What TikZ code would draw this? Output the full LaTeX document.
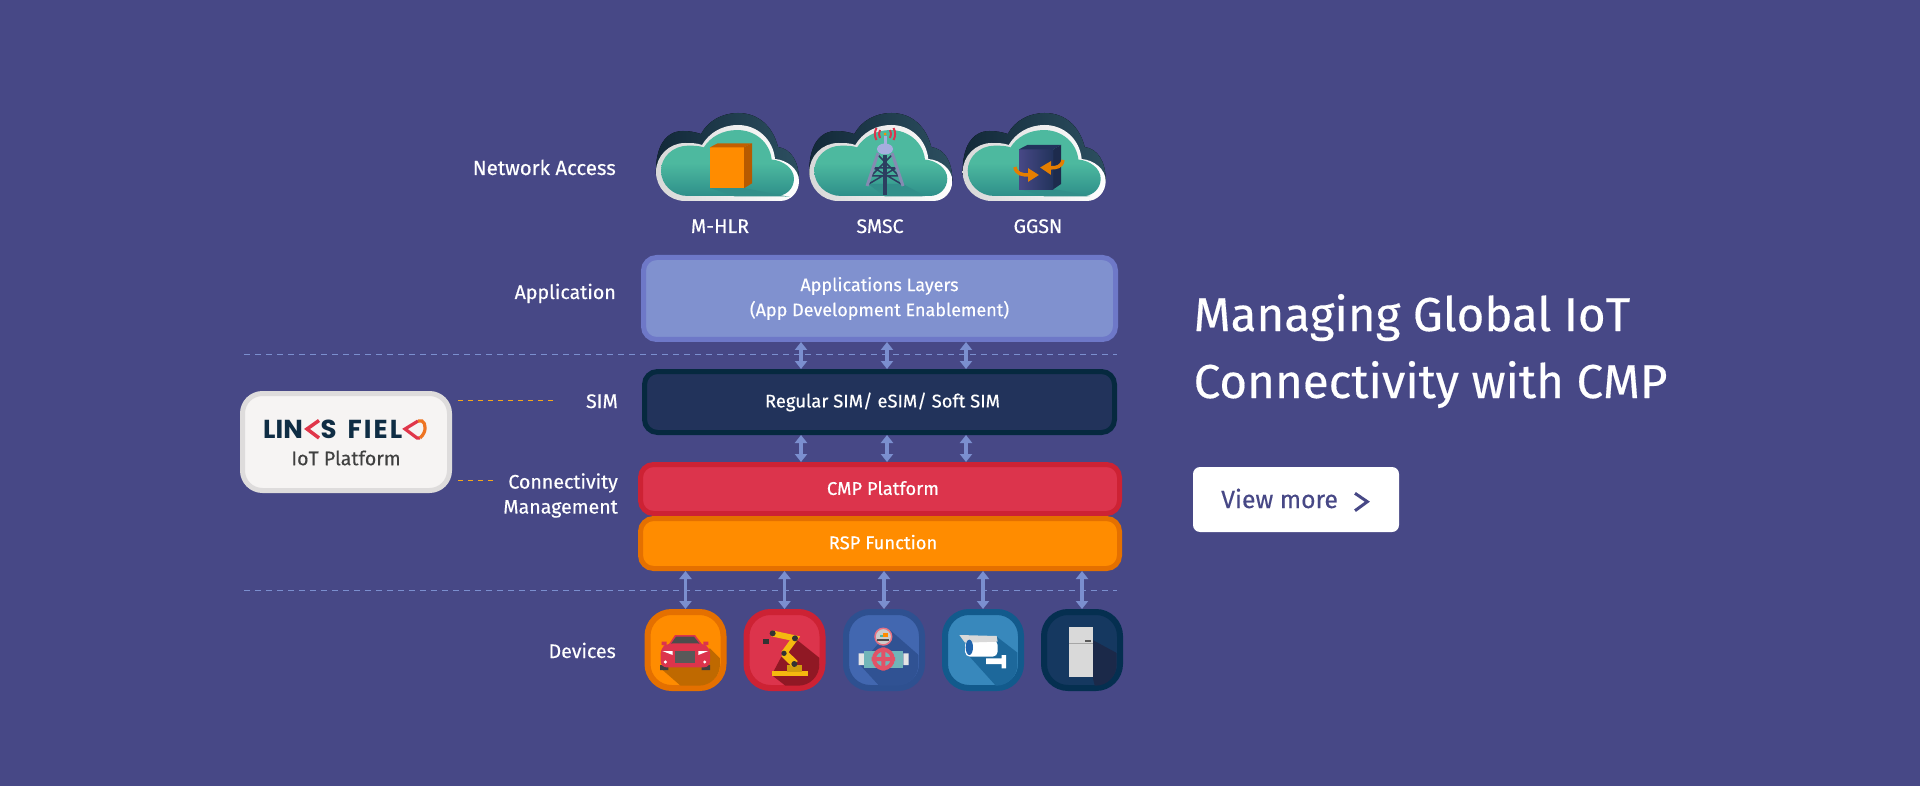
\documentclass[tikz,border=0pt]{standalone}
\usepackage{fontspec}
\setmainfont{Fira Sans}[FakeBold=0.35]
\newfontfamily\logofont{Poppins}
\usetikzlibrary{arrows.meta}
\newcommand{\cloudpath}{(29,0) -- (124,0) .. controls (135,0) and (143,-9) .. (143,-20) .. controls (143,-32) and (131,-41) .. (119,-42) .. controls (117,-62) and (101,-76) .. (82,-76) .. controls (66,-76) and (53,-68) .. (46,-56) .. controls (41,-58) and (35,-58) .. (29,-58) .. controls (13,-58) and (0,-45) .. (0,-29) .. controls (0,-13) and (13,0) .. (29,0) -- cycle}
\begin{document}
\begin{tikzpicture}[x=1pt,y=-1pt,
  layerbox/.style={rectangle,rounded corners=13,line width=5,text=white,align=center,font=\fontsize{18.4}{25}\selectfont},
  iconbox/.style={rectangle,rounded corners=24,line width=6,minimum width=76,minimum height=76},
  sidelabel/.style={text=white,align=right,font=\fontsize{19.6}{25}\selectfont,inner sep=0},
  toplabel/.style={text=white,font=\fontsize{19.6}{25}\selectfont,inner sep=0},
  duplex/.style={{Triangle[length=8,width=12]}-{Triangle[length=8,width=12]},line width=3.5,draw=linkblue},
  sepline/.style={draw=linkblue,line width=1,dash pattern=on 6 off 5},
  tickline/.style={draw=tickorange,line width=1,dash pattern=on 5 off 5},
  netcloud/.pic={
    \fill[left color=cloudA,right color=cloudB] (0,-26) .. controls (-1,-55) and (10,-70) .. (27,-70) .. controls (33,-70) and (39,-69) .. (45,-67) .. controls (52,-80) and (66,-88) .. (82,-88) .. controls (103,-88) and (117,-74) .. (122,-54) .. controls (135,-52) and (143,-40) .. (143,-20) -- (100,-10) -- cycle;
    \path[left color=rimgrey,right color=white] \cloudpath;
    \path[shift={(5,-5)},xscale=0.93,yscale=0.868,top color=tealA,bottom color=tealB,middle color=tealA] \cloudpath;
  }]
\definecolor{bgblue}{HTML}{474886}
\definecolor{linkblue}{HTML}{7B8FCF}
\definecolor{tickorange}{HTML}{F5A81C}
\definecolor{cloudA}{HTML}{122838}
\definecolor{cloudB}{HTML}{2C4F60}
\definecolor{rimgrey}{HTML}{D8D8D8}
\definecolor{tealA}{HTML}{4DB99F}
\definecolor{tealB}{HTML}{2E8F8A}
\definecolor{tealC}{HTML}{328F8A}
\definecolor{appfill}{HTML}{8091CF}
\definecolor{appline}{HTML}{6E78C8}
\definecolor{simfill}{HTML}{22335B}
\definecolor{simline}{HTML}{06293F}
\definecolor{cmpfill}{HTML}{DC344C}
\definecolor{cmpline}{HTML}{CD2234}
\definecolor{rspfill}{HTML}{FF8C00}
\definecolor{rspline}{HTML}{E47000}
\definecolor{valvefill}{HTML}{4267B0}
\definecolor{valveline}{HTML}{2E5090}
\definecolor{camfill}{HTML}{3888BC}
\definecolor{camline}{HTML}{125A8C}
\definecolor{coldfill}{HTML}{153860}
\definecolor{coldline}{HTML}{052F50}
\definecolor{brand}{HTML}{0F2D44}
\definecolor{brandred}{HTML}{E0364A}
\definecolor{brandorange}{HTML}{EE7422}
\definecolor{metal}{HTML}{2C3E60}
\definecolor{lilac}{HTML}{A6AEDF}
\definecolor{gold}{HTML}{F5B90F}
\useasboundingbox (0,0) rectangle (1920,786);
\fill[bgblue] (0,0) rectangle (1920,786);
% clouds
\pic at (656,201) {netcloud};
\pic at (809.3,201) {netcloud};
\pic at (962.7,201) {netcloud};
\fill[tealC] (710,188) -- (744,188) -- (790,197) -- (785,196.5) -- (735,196.5) -- cycle;
\fill[tealC] (868,184) -- (903,184) -- (925,196) -- (920,196.5) -- (885,196.5) -- cycle;
\fill[tealC] (1019,189) -- (1054,189) -- (1090,196) -- (1085,196.5) -- (1045,196.5) -- cycle;
% m-hlr
\fill[rspfill] (710,147.3) rectangle (744,188.3);
\fill[rspline!85!black] (710,147.3) -- (717.7,143.3) -- (752,143.3) -- (744,147.3) -- cycle;
\fill[rspline!80!black] (744,147.3) -- (752,143.3) -- (752,183.3) -- (744,188.3) -- cycle;
% smsc
\draw[metal,line width=1.5] (874,168) -- (896,168) (871,176) -- (899,176) (878,155) -- (899,176) (892,155) -- (871,176) (874,168) -- (903,185) (896,168) -- (867,185);
\draw[lilac!80!black,line width=3] (878,153) -- (867,186) (892,153) -- (903,186);
\draw[metal,line width=3.5] (885,155) -- (885,195);
\draw[lilac,line width=3] (885,136) -- (885,146);
\fill[lilac] (885,149) ellipse (8 and 5.5);
\fill[rspfill] (885,134) circle (1.5);
\draw[cmpfill,line width=2] (880,138) arc (150:210:8) (890,138) arc (30:-30:8) (876.5,140) arc (150:210:12) (893.5,140) arc (30:-30:12);
% ggsn
\fill[left color=bgblue,right color=simfill] (1019,149.3) rectangle (1053.3,189.3);
\fill[simfill] (1019,149.3) -- (1027.3,145) -- (1061,145) -- (1053.3,149.3) -- cycle;
\fill[simfill!85!black] (1053.3,149.3) -- (1061,145) -- (1061,184) -- (1053.3,189.3) -- cycle;
\draw[rspfill!90!black,line width=3.5,-{Triangle[length=11,width=13]}] (1015,167) .. controls (1016,174) and (1022,175) .. (1039,175);
\draw[rspfill!90!black,line width=3.5,-{Triangle[length=11,width=13]}] (1063,160) .. controls (1062,167) and (1056,168) .. (1040,167.5);
% labels
\node[toplabel,anchor=base] (hlrtext) at (720,233) {M-HLR};
\node[toplabel,anchor=base] (smsctext) at (880,233) {SMSC};
\node[toplabel,anchor=base] (ggsntext) at (1038,233) {GGSN};
\node[sidelabel,anchor=base east,font=\fontsize{20.4}{25}\selectfont] (accesstext) at (616,175) {Network Access};
\node[sidelabel,anchor=base east] (apptext) at (616,299) {Application};
\node[sidelabel,anchor=base east] (simtext) at (618,408) {SIM};
\node[sidelabel,anchor=east] (cmtext) at (618,495.5) {Connectivity\\Management};
\node[sidelabel,anchor=base east] (devtext) at (616,658) {Devices};
% layers
\node[layerbox,fill=appfill,draw=appline,minimum width=472,minimum height=82,font=\fontsize{18}{25}\selectfont] (app) at (879.5,298.5) {Applications Layers\\(App Development Enablement)};
\node[layerbox,fill=simfill,draw=simline,minimum width=470,minimum height=61] (sim) at (879.5,402) {\kern6pt Regular SIM/ eSIM/ Soft SIM};
\node[layerbox,fill=cmpfill,draw=cmpline,minimum width=479,minimum height=49] (cmp) at (880,489) {\kern6pt\raisebox{2pt}{CMP Platform}};
\node[layerbox,fill=rspfill,draw=rspline,minimum width=479,minimum height=50] (rsp) at (880,543.5) {\kern6pt\raisebox{3pt}{RSP Function}};
% devices
\foreach \dev/\crlr/\edge/\pos in {car/rspfill/rspline/685.5,robot/cmpfill/cmpline/784.5,valve/valvefill/valveline/884,camera/camfill/camline/983,fridge/coldfill/coldline/1082}
{ \node[iconbox,fill=\crlr,draw=\edge] (\dev) at (\pos,650) {};}
\begin{scope}[shift={(630,590)},scale=1/3]
  % car
  \begin{scope}
    \clip[rounded corners=21] (60,76) rectangle (270,287);
    \fill[rspfill!75!black] (92,235) -- (155,290) -- (270,290) -- (270,205) -- (240,175) -- cycle;
  \end{scope}
  \fill[black!75] (90,225) rectangle (115,240) (215,225) rectangle (240,240);
  \fill[cmpfill] (95,155) rectangle (110,165) (220,155) rectangle (235,165);
  \fill[cmpfill] (115,165) -- (135,135) -- (195,135) -- (218,165) -- cycle;
  \fill[black!70] (122,163) -- (138,140) -- (192,140) -- (210,163) -- cycle;
  \fill[cmpfill,rounded corners=6] (92,172) -- (115,160) -- (215,160) -- (240,172) -- (240,232) -- (92,232) -- cycle;
  \fill[black!65] (135,183) rectangle (195,220);
  \fill[white] (97,183) -- (128,183) -- (128,195) -- cycle (235,183) -- (205,183) -- (205,195) -- cycle;
  \fill[white] (106,216) circle (5) (224,216) circle (5);
  % robot
  \begin{scope}
    \clip[rounded corners=21] (358,76) rectangle (568,287);
    \fill[cmpline!70!black] (495,145) -- (570,205) -- (570,290) -- (470,290) -- (425,255) -- (470,170) -- cycle;
  \end{scope}
  \fill[gold] (425,243) rectangle (535,257);
  \fill[gold!85!black] (472,225) rectangle (515,245);
  \draw[gold,line width=6] (425,130) -- (495,145) -- (462,190);
  \draw[gold,line width=8] (462,190) -- (495,222);
  \fill[black!80] (428,130) circle (9) (495,145) circle (9) (462,190) circle (8) (493,222) circle (9);
  \fill[black!80] (398,148) rectangle (418,163);
  % valve
  \begin{scope}
    \clip[rounded corners=21] (655,76) rectangle (865,287);
    \fill[valveline!90!valvefill] (780,120) -- (868,197) -- (868,290) -- (750,290) -- (690,225) -- cycle;
  \end{scope}
  \fill[black!10] (686,190) rectangle (702,225) (820,190) rectangle (836,225);
  \fill[tealA!60!lilac] (702,182) rectangle (820,235);
  \draw[cmpfill!70!white,line width=1.5,fill=black!20] (760,140) circle (25);
  \fill[tealA] (750,134) rectangle (760,142);
  \fill[rspfill] (760,128) rectangle (774,142);
  \fill[black!70] (742,146) rectangle (778,152);
  \draw[cmpfill!85!white,line width=4] (760,207) circle (28) (760,172) -- (760,242) (725,207) -- (795,207);
  \fill[cmpfill!85!white] (760,207) circle (9);
  % camera
  \begin{scope}
    \clip[rounded corners=21] (952,76) rectangle (1162,287);
    \fill[camline!70!camfill] (1010,190) -- (1100,290) -- (1165,290) -- (1165,190) -- (1100,140) -- cycle;
  \end{scope}
  \fill[white] (1068,205) rectangle (1128,222) (1115,195) rectangle (1128,235);
  \fill[white,rounded corners=5] (1005,150) rectangle (1103,200);
  \fill[black!15] (988,135) -- (1100,138) -- (1103,155) -- (1005,158) -- cycle;
  \fill[tealB!70!blue] (1018,172) ellipse (11 and 23);
  % fridge
  \begin{scope}
    \clip[rounded corners=21] (1250,76) rectangle (1460,287);
    \fill[simfill!80!black] (1388,150) -- (1462,190) -- (1462,290) -- (1395,290) -- (1388,262) -- cycle;
  \end{scope}
  \fill[black!15] (1317,112) rectangle (1388,262);
  \draw[black!35,line width=.6] (1317,160) -- (1388,160);
  \fill[black!65] (1365,150) rectangle (1382,156);
\end{scope}
% links
\coordinate (ta) at (801,0);
\coordinate (tb) at (887,0);
\coordinate (tc) at (966,0);
\foreach \tap in {ta,tb,tc}
{ \draw[duplex] (app.south -| \tap) -- (sim.north -| \tap);
  \draw[duplex] (sim.south -| \tap) -- (cmp.north -| \tap);}
\foreach \dev in {car,robot,valve,camera,fridge}
{ \draw[duplex] (rsp.south -| \dev.north) -- (\dev.north);}
\coordinate (sepAa) at (244,355);
\coordinate (sepAb) at (1117,355);
\coordinate (sepBa) at (244,590.5);
\coordinate (sepBb) at (1117,590.5);
\draw[sepline] (sepAa) -- (sepAb);
\draw[sepline] (sepBa) -- (sepBb);
\coordinate (tickAa) at (458,400.7);
\coordinate (tickAb) at (556,400.7);
\coordinate (tickBa) at (458,480);
\coordinate (tickBb) at (495,480);
\draw[tickline] (tickAa) -- (tickAb);
\draw[tickline] (tickBa) -- (tickBb);
% platform
\definecolor{logofill}{HTML}{F6F4F3}
\definecolor{logoline}{HTML}{DEDCDC}
\node[rectangle,rounded corners=20,line width=5,draw=logoline,fill=logofill,minimum width=207,minimum height=97] (logo) at (346,442) {};
\node[anchor=base west,inner sep=0,text=brand,font=\logofont\bfseries\fontsize{26}{26}\selectfont] (lin) at (263,438.3) {LIN};
\node[anchor=base west,inner sep=0,text=brand,font=\logofont\bfseries\fontsize{26}{26}\selectfont] (fiel) at (320.5,438.3) {S\hspace{11pt}\addfontfeature{LetterSpace=8}FIEL};
\draw[line width=3.5,brandred] (319,420.5) -- (307,429) -- (319,438);
\draw[line width=3.2,brandred] (418,421) -- (405,429) -- (417,438) -- (420,438);
\draw[line width=3.2,brandorange] (418,421) -- (422,421) .. controls (426,423) and (427,432) .. (420,438);
\node[inner sep=0,text=black!75,font=\fontsize{19.6}{25}\selectfont] (iot) at (346,458) {IoT Platform};
% headline
\node[anchor=base west,inner sep=0,text=white,font=\fontsize{47.5}{47}\selectfont] (headA) at (1193.5,331) {Managing Global IoT};
\node[anchor=base west,inner sep=0,text=white,font=\fontsize{47.5}{47}\selectfont] (headB) at (1193.5,398) {Connectivity with CMP};
\node[rectangle,rounded corners=7,fill=white,minimum width=206,minimum height=65] (more) at (1296,499.5) {};
\node[anchor=base west,inner sep=0,text=bgblue,font=\fontsize{24.8}{24}\selectfont] (moretext) at (1221,508) {View more};
\coordinate (chevA) at (1355,493.3);
\coordinate (chevB) at (1367.3,501.7);
\coordinate (chevC) at (1355,510.7);
\draw[bgblue,line width=3] (chevA) -- (chevB) -- (chevC);
\end{tikzpicture}
\end{document}
